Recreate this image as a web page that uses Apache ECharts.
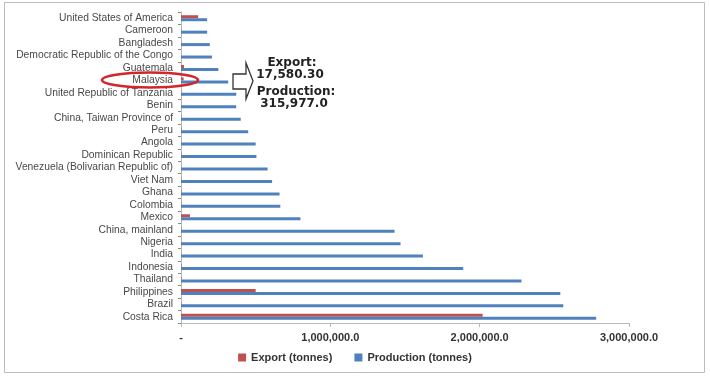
<!DOCTYPE html>
<html>
<head>
<meta charset="utf-8">
<script src="https://cdn.jsdelivr.net/npm/echarts@6/dist/echarts.min.js"></script>
<style>html,body{margin:0;padding:0;background:#fff;}#c{width:710px;height:380px;}</style>
</head>
<body>
<div id="c"></div>
<script>
const categories = [
  "United States of America","Cameroon","Bangladesh","Democratic Republic of the Congo",
  "Guatemala","Malaysia","United Republic of Tanzania","Benin","China, Taiwan Province of",
  "Peru","Angola","Dominican Republic","Venezuela (Bolivarian Republic of)","Viet Nam",
  "Ghana","Colombia","Mexico","China, mainland","Nigeria","India","Indonesia","Thailand",
  "Philippines","Brazil","Costa Rica"
];
const exportTonnes = [
  115000, 1000, 500, 800, 20000, 17580.3, 1500, 1000, 2000, 3000, 500, 2500, 1000, 2000,
  3000, 2500, 60000, 2000, 500, 1000, 3000, 4000, 500000, 2000, 2020000
];
const productionTonnes = [
  175000, 175000, 193000, 207000, 250000, 315977, 370000, 370000, 400000, 450000, 500000,
  505000, 580000, 610000, 660000, 665000, 800000, 1430000, 1470000, 1620000, 1890000,
  2280000, 2540000, 2560000, 2780000
];
const xTicks = [0, 1000000, 2000000, 3000000];
const seriesNames = ["Export (tonnes)", "Production (tonnes)"];
const noteLines = ["Export:", "17,580.30", "Production:", "315,977.0"];

function fmt(v){
  if (v === 0) return "-";
  return v.toLocaleString("en-US",{minimumFractionDigits:1,maximumFractionDigits:1});
}

const noteY = [63, 75, 91.5, 103.5];
const noteX = [292, 290, 296, 294];
const noteFont = {fontFamily:'DejaVu Sans', fontWeight:'bold', fontSize:12, fill:'#222', textAlign:'center', textVerticalAlign:'middle'};

const chart = echarts.init(document.getElementById('c'), null, {renderer:'canvas'});
chart.setOption({
  animation:false,
  backgroundColor:'#fff',
  color:['#C0504D','#4F81BD'],
  grid:{left:181, right:81, top:12, bottom:57, containLabel:false},
  legend:{
    bottom:12, left:'center', itemWidth:8, itemHeight:8, itemGap:22, icon:'rect',
    textStyle:{fontFamily:'Liberation Sans', fontWeight:'bold', fontSize:11, color:'#333'},
    data:seriesNames
  },
  xAxis:{
    type:'value', min:xTicks[0], max:xTicks[xTicks.length-1], interval:1000000,
    axisLine:{show:true, lineStyle:{color:'#b8b8b8'}},
    axisTick:{show:true, length:4, lineStyle:{color:'#b8b8b8'}},
    splitLine:{show:false},
    axisLabel:{formatter:fmt, margin:9, fontFamily:'Liberation Sans', fontWeight:'bold', fontSize:11, color:'#333'}
  },
  yAxis:{
    type:'category', data:categories, inverse:true,
    axisLine:{show:true, lineStyle:{color:'#b8b8b8'}},
    axisTick:{show:true, length:3, lineStyle:{color:'#888'}},
    axisLabel:{fontFamily:'Liberation Sans', fontSize:10.3, color:'#484848', margin:8, interval:0}
  },
  series:[
    {name:seriesNames[0], type:'bar', data:exportTonnes, barWidth:3, barGap:'0%', itemStyle:{color:'#C0504D'}},
    {name:seriesNames[1], type:'bar', data:productionTonnes, barWidth:3, barGap:'0%', itemStyle:{color:'#4F81BD'}}
  ],
  graphic:[
    {type:'rect', shape:{x:4.5, y:2.5, width:700, height:370}, style:{fill:'none', stroke:'#bdbdbd', lineWidth:1}, z:-1},
    {type:'ellipse', shape:{cx:150, cy:80, rx:48, ry:7.5}, style:{fill:'none', stroke:'#d3262b', lineWidth:2.5}, z:10},
    {type:'polygon', shape:{points:[[233,74],[246,74],[246,63],[253,81],[246,99],[246,89],[233,89]]},
      style:{fill:'#fff', stroke:'#333', lineWidth:1.3}, z:10}
  ].concat(noteLines.map((t,i)=>({type:'text', x:noteX[i], y:noteY[i], style:Object.assign({text:t}, noteFont), z:10})))
});
</script>
</body>
</html>
